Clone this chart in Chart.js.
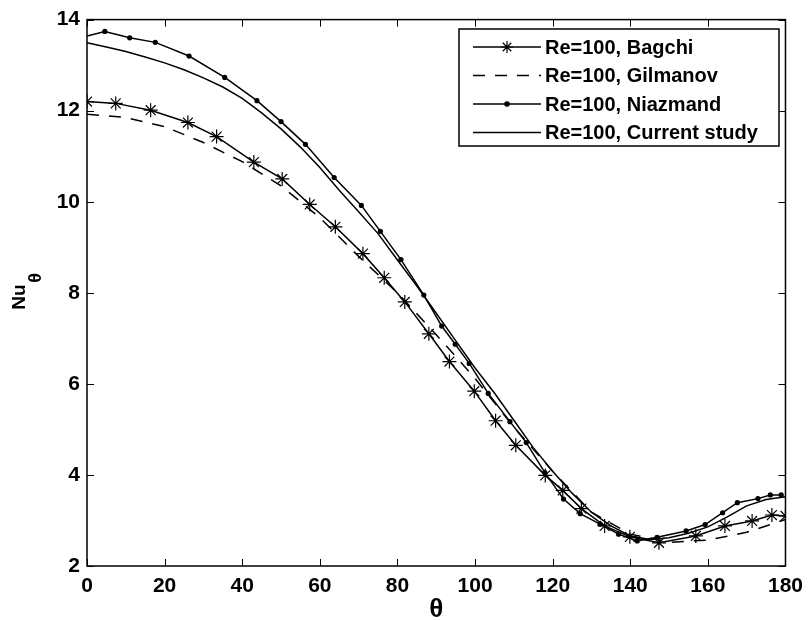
<!DOCTYPE html>
<html>
<head>
<meta charset="utf-8">
<script src="https://cdn.jsdelivr.net/npm/chart.js@4.4.1/dist/chart.umd.min.js"></script>
<style>
html,body{margin:0;padding:0;background:#fff;}
</style>
</head>
<body>
<canvas id="nu" width="811" height="620"></canvas>
<script>
// values (theta in degrees, local Nusselt number)
const bagchiTheta = [0, 7.4, 16.4, 26.0, 33.4, 43.0, 50.3, 57.4, 64.0, 71.1, 76.6, 81.9, 88.1, 93.4, 99.8, 105.3, 110.5, 118.1, 122.6, 127.4, 133.4, 139.9, 147.4, 156.9, 164.4, 171.4, 176.5, 180];
const bagchiNu = [12.20, 12.16, 12.01, 11.74, 11.43, 10.87, 10.50, 9.94, 9.45, 8.86, 8.33, 7.80, 7.10, 6.49, 5.84, 5.19, 4.65, 3.99, 3.66, 3.26, 2.88, 2.64, 2.51, 2.66, 2.88, 2.99, 3.12, 3.10];

const gilmanovTheta = [0, 10, 20, 30, 40, 50, 60, 70, 80, 90, 100, 110, 120, 130, 140, 150, 160, 170, 180];
const gilmanovNu = [11.92, 11.85, 11.65, 11.30, 10.88, 10.35, 9.65, 8.80, 8.00, 7.08, 6.12, 5.05, 4.08, 3.18, 2.70, 2.52, 2.57, 2.74, 3.02];

const niazmandTheta = [0, 4.6, 11.0, 17.6, 26.3, 35.5, 43.8, 50.0, 56.3, 63.7, 70.7, 75.6, 80.9, 86.8, 91.4, 94.9, 98.5, 103.4, 109.0, 113.2, 118.0, 122.8, 127.1, 132.2, 137.0, 141.8, 146.9, 154.4, 159.3, 163.8, 167.6, 172.9, 176.1, 178.9];
const niazmandNu = [13.64, 13.74, 13.60, 13.50, 13.20, 12.73, 12.22, 11.76, 11.26, 10.53, 9.92, 9.35, 8.73, 7.95, 7.27, 6.87, 6.45, 5.79, 5.17, 4.71, 4.05, 3.47, 3.15, 2.92, 2.70, 2.55, 2.63, 2.77, 2.91, 3.17, 3.39, 3.48, 3.56, 3.56];

const currentTheta = [0, 5, 10, 15, 20, 25, 30, 35, 40, 45, 50, 55, 60, 65, 70, 75, 80, 85, 90, 95, 100, 105, 110, 115, 120, 125, 130, 135, 140, 145, 150, 155, 160, 165, 170, 175, 180];
const currentNu = [13.49, 13.40, 13.30, 13.18, 13.05, 12.90, 12.72, 12.52, 12.27, 11.95, 11.60, 11.20, 10.75, 10.25, 9.78, 9.30, 8.72, 8.15, 7.55, 6.95, 6.35, 5.80, 5.20, 4.60, 4.08, 3.60, 3.18, 2.88, 2.66, 2.58, 2.62, 2.72, 2.86, 3.08, 3.32, 3.46, 3.52];

const seriesNames = ['Re=100, Bagchi', 'Re=100, Gilmanov', 'Re=100, Niazmand', 'Re=100, Current study'];
const xTicks = [0, 20, 40, 60, 80, 100, 120, 140, 160, 180];
const yTicks = [2, 4, 6, 8, 10, 12, 14];

const FONT = '"Liberation Sans", Arial, sans-serif';
const pts = (xs, ys) => xs.map((x, i) => ({x: x, y: ys[i]}));

// box with inward ticks on all sides, legend, y label with subscript
const matlabFrame = {
    id: 'matlabFrame',
    afterDatasetsDraw(chart) {
        const {ctx, chartArea: a, scales} = chart;
        ctx.save();
        ctx.strokeStyle = '#000';
        ctx.lineWidth = 1;
        const tl = 7;
        ctx.beginPath();
        xTicks.forEach(v => {
            const px = Math.round(scales.x.getPixelForValue(v)) + 0.5;
            ctx.moveTo(px, a.bottom); ctx.lineTo(px, a.bottom - tl);
            ctx.moveTo(px, a.top); ctx.lineTo(px, a.top + tl);
        });
        yTicks.forEach(v => {
            const py = Math.round(scales.y.getPixelForValue(v)) + 0.5;
            ctx.moveTo(a.left, py); ctx.lineTo(a.left + tl, py);
            ctx.moveTo(a.right, py); ctx.lineTo(a.right - tl, py);
        });
        ctx.stroke();
        ctx.lineWidth = 1.5;
        ctx.strokeRect(a.left, a.top, a.right - a.left, a.bottom - a.top);

        // legend
        const lx = 459, ly = 29, lw = 320, lh = 117;
        ctx.fillStyle = '#fff';
        ctx.fillRect(lx, ly, lw, lh);
        ctx.lineWidth = 1.5;
        ctx.strokeRect(lx, ly, lw, lh);
        chart.data.datasets.forEach((ds, i) => {
            const y = ly + 18 + i * 28.5;
            ctx.save();
            ctx.strokeStyle = '#000';
            ctx.lineWidth = 1.5;
            ctx.setLineDash(ds.borderDash || []);
            ctx.beginPath();
            ctx.moveTo(473, y); ctx.lineTo(541, y);
            ctx.stroke();
            ctx.setLineDash([]);
            if (ds.legendMarker) {
                ctx.fillStyle = '#000';
                ctx.lineWidth = 1.2;
                Chart.helpers.drawPoint(ctx, {pointStyle: ds.pointStyle, radius: ds.legendMarker, rotation: 0, borderWidth: 1.2}, 507, y);
            }
            ctx.restore();
            ctx.fillStyle = '#000';
            ctx.font = 'bold 20px ' + FONT;
            ctx.textAlign = 'left';
            ctx.textBaseline = 'middle';
            ctx.fillText(ds.label, 545, y + 1);
        });

        // y axis label Nu_theta
        ctx.translate(20, 297);
        ctx.rotate(-Math.PI / 2);
        ctx.fillStyle = '#000';
        ctx.font = 'bold 19px ' + FONT;
        ctx.textAlign = 'center';
        ctx.textBaseline = 'middle';
        ctx.fillText('Nu', 0, 0);
        ctx.font = 'bold 18px ' + FONT;
        ctx.fillText('θ', 19, 16);
        ctx.restore();
    }
};

const ctx1 = document.getElementById('nu').getContext('2d');
const nuChart = new Chart(ctx1, {
    type: 'line',
    data: {
        datasets: [{
            label: seriesNames[0],
            data: pts(bagchiTheta, bagchiNu),
            borderColor: '#000',
            backgroundColor: '#000',
            borderWidth: 1.5,
            pointStyle: 'star',
            pointRadius: 7,
            pointBorderWidth: 1.2,
            legendMarker: 6
        }, {
            label: seriesNames[1],
            data: pts(gilmanovTheta, gilmanovNu),
            borderColor: '#000',
            borderWidth: 1.5,
            borderDash: [12, 10],
            pointRadius: 0
        }, {
            label: seriesNames[2],
            data: pts(niazmandTheta, niazmandNu),
            borderColor: '#000',
            backgroundColor: '#000',
            borderWidth: 1.5,
            pointStyle: 'circle',
            pointRadius: c => c.dataIndex === 0 ? 0 : 2.6,
            pointBorderWidth: 0,
            legendMarker: 2.2
        }, {
            label: seriesNames[3],
            data: pts(currentTheta, currentNu),
            borderColor: '#000',
            borderWidth: 1.5,
            pointRadius: 0
        }]
    },
    options: {
        responsive: false,
        animation: false,
        layout: {padding: {left: 0, top: 17, right: 20, bottom: 0}},
        elements: {line: {tension: 0, fill: false}},
        plugins: {legend: {display: false}, tooltip: {enabled: false}},
        scales: {
            x: {
                type: 'linear', min: 0, max: 180,
                afterFit: s => { s.height = 54; },
                afterBuildTicks: s => { s.ticks = xTicks.map(v => ({value: v})); },
                grid: {display: false, drawTicks: false},
                border: {display: false},
                ticks: {color: '#000', padding: 8, autoSkip: false, maxRotation: 0, font: {family: FONT, size: 21, weight: 'bold'}},
                title: {display: true, text: 'θ', color: '#000', padding: {top: 0, bottom: 0}, font: {family: FONT, size: 26, weight: 'bold', lineHeight: 0.8}}
            },
            y: {
                type: 'linear', min: 2, max: 14,
                afterFit: s => { s.width = 87; },
                afterBuildTicks: s => { s.ticks = yTicks.map(v => ({value: v})); },
                grid: {display: false, drawTicks: false},
                border: {display: false},
                ticks: {color: '#000', padding: 7, font: {family: FONT, size: 21, weight: 'bold'}}
            }
        }
    },
    plugins: [matlabFrame]
});
</script>
</body>
</html>
